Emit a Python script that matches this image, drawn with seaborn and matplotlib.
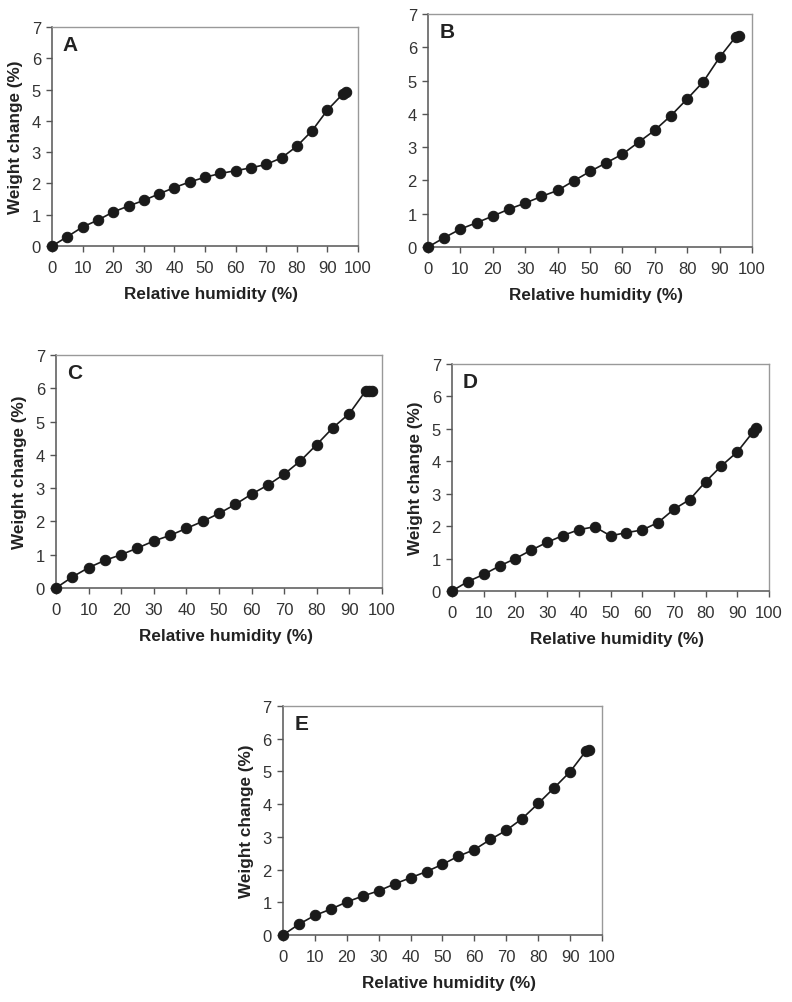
import matplotlib
matplotlib.use("Agg")
import matplotlib.pyplot as plt
import seaborn as sns
import pandas as pd

rh = [0, 5, 10, 15, 20, 25, 30, 35, 40, 45, 50, 55, 60, 65, 70, 75, 80, 85, 90, 95, 96]
rh_c = [0, 5, 10, 15, 20, 25, 30, 35, 40, 45, 50, 55, 60, 65, 70, 75, 80, 85, 90, 95, 96, 97]

wA = [0, 0.30, 0.61, 0.83, 1.09, 1.28, 1.46, 1.67, 1.87, 2.05, 2.20, 2.32, 2.41, 2.50, 2.61, 2.82, 3.19, 3.69, 4.35, 4.86, 4.91]
wB = [0, 0.28, 0.54, 0.73, 0.93, 1.14, 1.32, 1.52, 1.70, 1.99, 2.27, 2.53, 2.79, 3.15, 3.51, 3.95, 4.45, 4.97, 5.70, 6.32, 6.35]
wC = [0, 0.33, 0.61, 0.83, 1.00, 1.20, 1.41, 1.58, 1.79, 2.00, 2.24, 2.51, 2.82, 3.09, 3.42, 3.82, 4.31, 4.82, 5.24, 5.92, 5.92, 5.92]
wD = [0, 0.29, 0.51, 0.77, 1.00, 1.26, 1.50, 1.71, 1.89, 1.98, 1.70, 1.80, 1.88, 2.11, 2.52, 2.82, 3.37, 3.86, 4.29, 4.91, 5.02]
wE = [0, 0.33, 0.60, 0.79, 1.01, 1.19, 1.35, 1.56, 1.75, 1.94, 2.16, 2.41, 2.61, 2.92, 3.20, 3.56, 4.02, 4.50, 4.99, 5.63, 5.65]

panel_letters = ["A", "B", "C", "D", "E"]
x_ticks = list(range(0, 101, 10))
y_ticks = list(range(0, 8))
xlabel = "Relative humidity (%)"
ylabel = "Weight change (%)"

sns.set_style("ticks")
plt.rcParams["font.family"] = ["Liberation Sans", "DejaVu Sans"]

fig = plt.figure(figsize=(7.92, 10.03), dpi=100)

positions = {
    "A": [0.0657, 0.7537, 0.3864, 0.2183],
    "B": [0.5404, 0.7527, 0.4091, 0.2323],
    "C": [0.0707, 0.4128, 0.4116, 0.2323],
    "D": [0.5707, 0.4098, 0.4003, 0.2263],
    "E": [0.3573, 0.0668, 0.4028, 0.2283],
}
series = {
    "A": (rh, wA, True),
    "B": (rh, wB, False),
    "C": (rh_c, wC, True),
    "D": (rh, wD, True),
    "E": (rh, wE, True),
}

for letter in panel_letters:
    ax = fig.add_axes(positions[letter])
    xs, ys, show_ylab = series[letter]
    df = pd.DataFrame({"rh": xs, "w": ys})
    sns.lineplot(data=df, x="rh", y="w", ax=ax, color="#1a1a1a", linewidth=1.2,
                 marker="o", markersize=7.5, markeredgecolor="#1a1a1a",
                 markerfacecolor="#1a1a1a", clip_on=False, zorder=3)
    ax.set_xlim(0, 100)
    ax.set_ylim(0, 7)
    ax.set_xticks(x_ticks)
    ax.set_yticks(y_ticks)
    ax.tick_params(axis="both", labelsize=12, colors="#555555", labelcolor="#333333",
                   length=4.5, width=1, direction="out")
    ax.tick_params(axis="x", pad=5.5)
    ax.tick_params(axis="y", pad=3.5)
    for side in ["left", "bottom"]:
        ax.spines[side].set_color("#555555")
        ax.spines[side].set_linewidth(1.1)
    for side in ["top", "right"]:
        ax.spines[side].set_visible(True)
        ax.spines[side].set_color("#999999")
        ax.spines[side].set_linewidth(1.0)
    ax.set_xlabel(xlabel, fontsize=12.3, fontweight="bold", color="#222222", labelpad=8)
    ax.xaxis.label.set_x(0.52)
    if show_ylab:
        ax.set_ylabel(ylabel, fontsize=12.3, fontweight="bold", color="#222222", labelpad=6)
    else:
        ax.set_ylabel("")
    ax.text(0.035, 0.965, letter, transform=ax.transAxes, fontsize=15, fontweight="bold",
            color="#222222", ha="left", va="top")

fig.savefig("out.png", dpi=100, facecolor="white")
